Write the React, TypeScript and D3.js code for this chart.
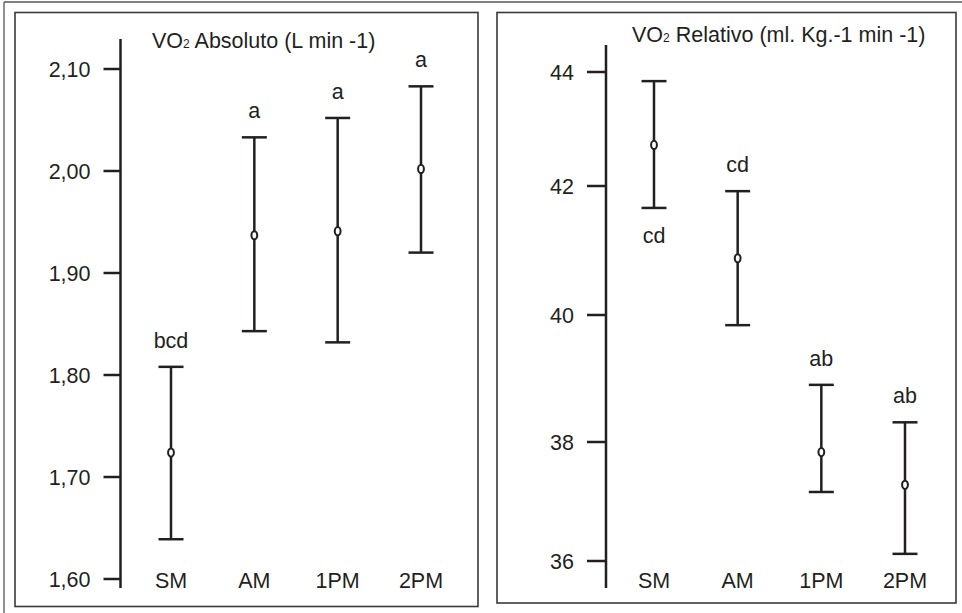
import React from "react";
import * as d3 from "d3";

const categories = ["SM", "AM", "1PM", "2PM"];

const absMean = [1.724, 1.937, 1.941, 2.002];
const absLower = [1.639, 1.843, 1.832, 1.92];
const absUpper = [1.808, 2.033, 2.052, 2.083];
const absLetters = ["bcd", "a", "a", "a"];
const absLetterSide = ["above", "above", "above", "above"];
const absTicks = [1.6, 1.7, 1.8, 1.9, 2.0, 2.1];
const absTickLabels = ["1,60", "1,70", "1,80", "1,90", "2,00", "2,10"];

const relMean = [42.72, 40.88, 37.83, 37.28];
const relLower = [41.66, 39.84, 37.16, 36.12];
const relUpper = [43.84, 41.92, 38.9, 38.31];
const relLetters = ["cd", "cd", "ab", "ab"];
const relLetterSide = ["below", "above", "above", "above"];
const relTicks = [36, 38, 40, 42, 44];
const relTickLabels = ["36", "38", "40", "42", "44"];

const INK = "#231f20";
const FONT = "'Liberation Sans', Arial, Helvetica, sans-serif";
const FS = 21.5;

type PanelProps = {
  box: [number, number, number, number];
  axisX: number;
  axisTop: number;
  axisBottom: number;
  domain: number[];
  range: number[];
  xRange: [number, number];
  mean: number[];
  lower: number[];
  upper: number[];
  letters: string[];
  sides: string[];
  ticks: number[];
  tickLabels: string[];
  titleX: number;
  titleY: number;
  titleRest: string;
  tickLen: number;
  labelGap: number;
};

function Panel(p: PanelProps) {
  const y = d3.scaleLinear().domain(p.domain).range(p.range);
  const x = d3.scalePoint<string>().domain(categories).range(p.xRange);
  const [bx, by, bw, bh] = p.box;
  const capHalf = 12.5;
  return (
    <g>
      <rect x={bx} y={by} width={bw} height={bh} fill="none" stroke="#3a3a3a" strokeWidth={1.6} />
      <text x={p.titleX} y={p.titleY} fontSize={FS} fill={INK} fontFamily={FONT}>
        VO<tspan fontSize={12}>2</tspan>
        {p.titleRest}
      </text>
      <line x1={p.axisX} x2={p.axisX} y1={p.axisTop} y2={p.axisBottom} stroke={INK} strokeWidth={2.5} />
      {p.ticks.map((t, i) => (
        <g key={"t" + i}>
          <line x1={p.axisX - p.tickLen} x2={p.axisX} y1={y(t)} y2={y(t)} stroke={INK} strokeWidth={2.5} />
          <text
            x={p.axisX - p.labelGap}
            y={y(t)}
            dy="0.35em"
            textAnchor="end"
            fontSize={FS}
            fill={INK}
            fontFamily={FONT}
          >
            {p.tickLabels[i]}
          </text>
        </g>
      ))}
      {categories.map((c, i) => (
        <text
          key={"c" + i}
          x={x(c)}
          y={p.axisBottom}
          textAnchor="middle"
          fontSize={FS}
          fill={INK}
          fontFamily={FONT}
        >
          {c}
        </text>
      ))}
      {categories.map((c, i) => {
        const cx = x(c) as number;
        const yu = y(p.upper[i]);
        const yl = y(p.lower[i]);
        const ym = y(p.mean[i]);
        const above = p.sides[i] === "above";
        return (
          <g key={"e" + i}>
            <line x1={cx} x2={cx} y1={yu} y2={yl} stroke={INK} strokeWidth={2.5} />
            <line x1={cx - capHalf} x2={cx + capHalf} y1={yu} y2={yu} stroke={INK} strokeWidth={2.5} />
            <line x1={cx - capHalf} x2={cx + capHalf} y1={yl} y2={yl} stroke={INK} strokeWidth={2.5} />
            <ellipse cx={cx} cy={ym} rx={2.9} ry={4.1} fill="#fff" stroke={INK} strokeWidth={2} />
            <text
              x={cx}
              y={above ? yu - 19 : yl + 35}
              textAnchor="middle"
              fontSize={FS}
              fill={INK}
              fontFamily={FONT}
            >
              {p.letters[i]}
            </text>
          </g>
        );
      })}
    </g>
  );
}

export default function App() {
  return (
    <svg
      width={962}
      height={613}
      style={{ position: "absolute", left: 0, top: 0, background: "#fff" }}
    >
      <rect x={0} y={0} width={962} height={613} fill="#fff" />
      <line x1={4} x2={962} y1={2} y2={2} stroke="#555" strokeWidth={1.3} />
      <line x1={4} x2={4} y1={2} y2={613} stroke="#555" strokeWidth={1.3} />
      <Panel
        box={[15, 12.5, 463, 594]}
        axisX={120.5}
        axisTop={39}
        axisBottom={588}
        domain={[1.6, 2.1]}
        range={[579, 69]}
        xRange={[171, 421]}
        mean={absMean}
        lower={absLower}
        upper={absUpper}
        letters={absLetters}
        sides={absLetterSide}
        ticks={absTicks}
        tickLabels={absTickLabels}
        titleX={152}
        titleY={48}
        titleRest=" Absoluto (L min -1)"
        tickLen={17}
        labelGap={30}
      />
      <Panel
        box={[497, 12.5, 459, 590.5]}
        axisX={606}
        axisTop={45}
        axisBottom={588}
        domain={[36, 38, 40, 42, 44]}
        range={[561, 442, 315, 186, 72]}
        xRange={[654, 905]}
        mean={relMean}
        lower={relLower}
        upper={relUpper}
        letters={relLetters}
        sides={relLetterSide}
        ticks={relTicks}
        tickLabels={relTickLabels}
        titleX={632}
        titleY={42}
        titleRest=" Relativo (ml. Kg.-1 min -1)"
        tickLen={19}
        labelGap={32}
      />
    </svg>
  );
}
